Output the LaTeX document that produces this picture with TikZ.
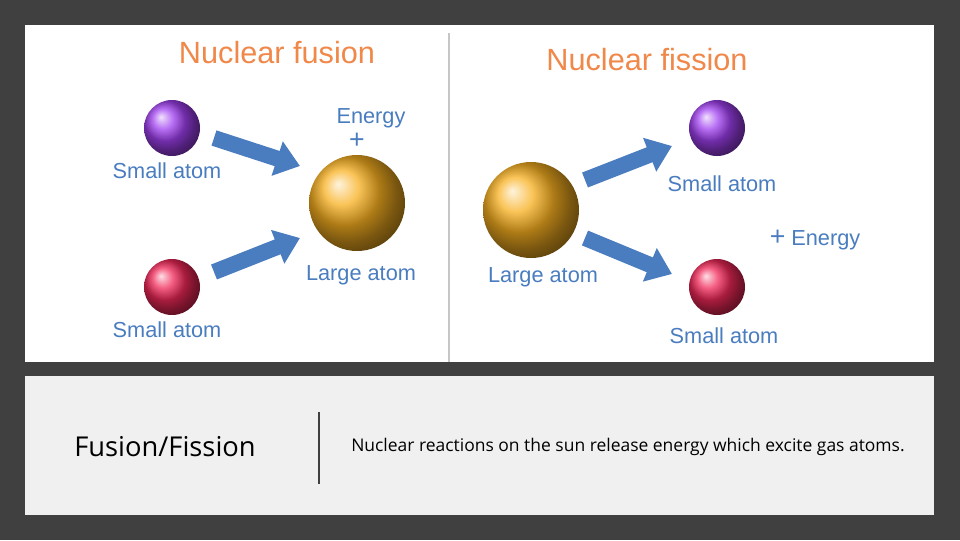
\documentclass[tikz,border=0pt]{standalone}
\usepackage{fontspec}
\setmainfont{Liberation Sans}
\newfontfamily\capfont{Open Sans}
\usetikzlibrary{arrows.meta}
\definecolor{bgdark}{HTML}{404040}
\definecolor{titleor}{HTML}{F0884A}
\definecolor{lblue}{HTML}{4A7DBF}
\definecolor{arrblue}{HTML}{4A7CC0}
\definecolor{panelg}{HTML}{F0F0F0}
\definecolor{apurple}{HTML}{A040F0}
\definecolor{ared}{HTML}{F02858}
\definecolor{agold}{HTML}{F8B020}
\tikzset{
 title/.style={text=titleor,font=\fontsize{23}{25}\selectfont},
 lbl/.style={text=lblue,font=\fontsize{16.3}{18}\selectfont},
 blk/.style={draw=arrblue,line width=12pt,-{Triangle[width=26pt,length=18pt]}},
 atom/.style={circle,inner sep=0pt,minimum size=#1},
}
\begin{document}
\begin{tikzpicture}[x=0.75pt,y=-0.75pt]
\fill[bgdark] (0,0) rectangle (960,540);
\useasboundingbox (0,0) rectangle (960,540);
\fill[white] (25,25) rectangle (934,362);
\draw[gray!45,line width=2.2pt] (449,33) -- (449,362);
\fill[panelg] (25,376) rectangle (934,515);
\draw[bgdark,line width=1.5pt] (319,412) -- (319,484);
\node[title] (t1) at (277,53) {Nuclear fusion};
\node[title] (t2) at (647,60) {Nuclear fission};
% atoms
\node[atom=42pt,ball color=apurple] (p1) at (172,128) {};
\node[atom=42pt,ball color=ared] (r1) at (172,287) {};
\node[atom=72pt,ball color=agold] (g1) at (357,203) {};
\node[atom=72pt,ball color=agold] (g2) at (531,210) {};
\node[atom=42pt,ball color=apurple] (p2) at (717,128) {};
\node[atom=42pt,ball color=ared] (r2) at (717,287) {};
% labels
\node[lbl] (l1) at (167,171) {Small atom};
\node[lbl] (l2) at (167,330) {Small atom};
\node[lbl] (l3) at (371,118) {Energy};
\node[text=lblue,font=\fontsize{20}{20}\selectfont] (l4) at (357,141) {+};
\node[lbl] (l5) at (361,275) {Large atom};
\node[lbl] (l6) at (543,277) {Large atom};
\node[lbl] (l7) at (722,184) {Small atom};
\node[lbl] (l8) at (724,336) {Small atom};
\node[lbl] (l9) at (815,240) {{\fontsize{20}{20}\selectfont+} Energy};
% arrows
\coordinate (a1s) at (214,138); \coordinate (a1e) at (300,166);
\coordinate (a2s) at (214,272); \coordinate (a2e) at (300,238);
\coordinate (a3s) at (585,180); \coordinate (a3e) at (672,146);
\coordinate (a4s) at (585,238); \coordinate (a4e) at (672,274);
\draw[blk] (a1s) -- (a1e);
\draw[blk] (a2s) -- (a2e);
\draw[blk] (a3s) -- (a3e);
\draw[blk] (a4s) -- (a4e);
% caption
\node[font=\capfont\fontsize{20.5}{22}\selectfont] (c1) at (165,447) {Fusion/Fission};
\node[font=\capfont\fontsize{13.1}{14}\selectfont] (c2) at (628,447) {Nuclear reactions on the sun release energy which excite gas atoms.};
\end{tikzpicture}
\end{document}
